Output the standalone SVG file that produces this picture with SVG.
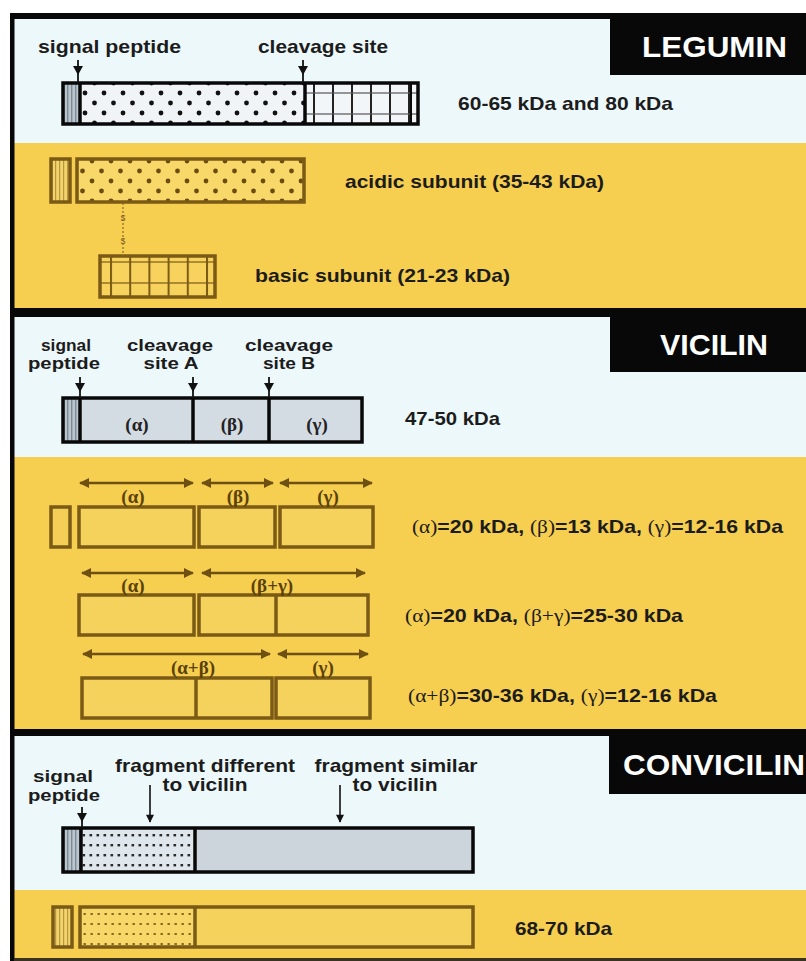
<svg xmlns="http://www.w3.org/2000/svg" width="806" height="961" viewBox="0 0 806 961">
<style>
.lbl{font-family:"Liberation Sans",Arial,sans-serif;font-weight:bold;font-size:19px;fill:#1c1c1c}
.stk{font-size:17px}
.ttl{font-family:"Liberation Sans",Arial,sans-serif;font-weight:bold;font-size:30px;fill:#ffffff}
.gk{font-family:"Liberation Serif","DejaVu Serif",serif;font-weight:normal}
.bar{font-family:"Liberation Serif","DejaVu Serif",serif;font-weight:bold;font-size:19px}
.blue{fill:#edf8fb}
.yel{fill:#f6ce50}
.blk{fill:#080808}
.kbox{fill:none;stroke:#080808;stroke-width:3.5}
.ybox{stroke:#7a5a14;stroke-width:3.5}
.ydiv{stroke:#7a5a14;stroke-width:3.5}
.kdiv{stroke:#080808;stroke-width:3.5}
.yarr{stroke:#6e5012;stroke-width:2.5;fill:none;marker-start:url(#ya);marker-end:url(#ya)}
.karr{stroke:#111;stroke-width:1.6;fill:none}
.ylab{fill:#5a410c}
</style>
<defs>
<marker id="ya" viewBox="0 0 10 10" refX="9" refY="5" markerWidth="4" markerHeight="4" orient="auto-start-reverse" markerUnits="strokeWidth">
<path d="M0,0 L10,5 L0,10 z" fill="#6e5012"/>
</marker>
<marker id="ka" viewBox="0 0 10 10" refX="9" refY="5" markerWidth="5.5" markerHeight="5" orient="auto" markerUnits="strokeWidth">
<path d="M0,0 L10,5 L0,10 z" fill="#111"/>
</marker>
<pattern id="dotK" patternUnits="userSpaceOnUse" x="80" y="88" width="19" height="20">
<rect width="19" height="20" fill="#f0f4f6"/>
<circle cx="5" cy="5" r="2.4" fill="#111"/>
<circle cx="14.5" cy="15" r="2.4" fill="#111"/>
</pattern>
<pattern id="dotY" patternUnits="userSpaceOnUse" x="77" y="166" width="19" height="20">
<rect width="19" height="20" fill="#f8d868"/>
<circle cx="5.5" cy="5" r="2.4" fill="#6a4c10"/>
<circle cx="15" cy="15" r="2.4" fill="#6a4c10"/>
</pattern>
<pattern id="gridK" patternUnits="userSpaceOnUse" x="313" y="83" width="19" height="41">
<rect width="19" height="41" fill="#f2f6f8"/>
<line x1="1" y1="0" x2="1" y2="41" stroke="#222" stroke-width="2"/>
<line x1="0" y1="10" x2="19" y2="10" stroke="#555" stroke-width="1.2"/>
<line x1="0" y1="31" x2="19" y2="31" stroke="#555" stroke-width="1.2"/>
</pattern>
<pattern id="gridY" patternUnits="userSpaceOnUse" x="110" y="256" width="19.2" height="41">
<rect width="19.2" height="41" fill="#f7d35e"/>
<line x1="1" y1="0" x2="1" y2="41" stroke="#7a5a14" stroke-width="2"/>
<line x1="0" y1="6" x2="19.2" y2="6" stroke="#7a5a14" stroke-width="1.2"/>
<line x1="0" y1="27" x2="19.2" y2="27" stroke="#7a5a14" stroke-width="1.2"/>
</pattern>
<pattern id="fineK" patternUnits="userSpaceOnUse" x="81" y="831" width="7" height="10">
<rect width="7" height="10" fill="#dfe6ec"/>
<rect x="1.5" y="3" width="2.6" height="2.4" fill="#2a2a2a"/>
</pattern>
<pattern id="fineY" patternUnits="userSpaceOnUse" x="82" y="910" width="7" height="10">
<rect width="7" height="10" fill="#f7d767"/>
<rect x="1.5" y="3" width="2.4" height="2" fill="#8a6a22"/>
</pattern>
<pattern id="stripK" patternUnits="userSpaceOnUse" x="63" y="0" width="4" height="10">
<rect width="4" height="10" fill="#b9c6cf"/>
<rect x="0" width="1.4" height="10" fill="#7d8a94"/>
</pattern>
<pattern id="stripY" patternUnits="userSpaceOnUse" x="51" y="0" width="4" height="10">
<rect width="4" height="10" fill="#f3d36a"/>
<rect x="0" width="1.2" height="10" fill="#b59540"/>
</pattern>
</defs>

<!-- background panels -->
<g id="background">
<rect x="0" y="0" width="806" height="961" fill="#ffffff"/>
<rect class="blue" x="14" y="19" width="792" height="124"/>
<rect class="yel" x="14" y="143" width="792" height="165"/>
<rect class="blue" x="14" y="317" width="792" height="140"/>
<rect class="yel" x="14" y="457" width="792" height="272"/>
<rect class="blue" x="14" y="736" width="792" height="154"/>
<rect class="yel" x="14" y="890" width="792" height="68"/>
<rect class="blk" x="10" y="13" width="796" height="6"/>
<rect class="blk" x="10" y="308" width="796" height="9"/>
<rect class="blk" x="10" y="729" width="796" height="7"/>
<rect class="blk" x="10" y="13" width="4.5" height="948"/>
<rect x="14" y="958" width="792" height="3" fill="#3a3320"/>
</g>

<!-- LEGUMIN -->
<g id="legumin-title">
<rect class="blk" x="610" y="13" width="196" height="62"/>
<text class="ttl" x="642" y="57" textLength="145" lengthAdjust="spacingAndGlyphs">LEGUMIN</text>
</g>
<g id="legumin-precursor">
<rect x="63" y="83" width="17" height="41" fill="url(#stripK)"/>
<rect x="80" y="83" width="225" height="41" fill="url(#dotK)"/>
<rect x="305" y="83" width="113" height="41" fill="url(#gridK)"/>
<line class="kdiv" x1="411" y1="83" x2="411" y2="124" style="stroke-width:2"/>
<line class="kdiv" x1="80" y1="83" x2="80" y2="124"/>
<line class="kdiv" x1="305" y1="83" x2="305" y2="124"/>
<rect class="kbox" x="63" y="83" width="355" height="41"/>
<text class="lbl" x="38" y="53" textLength="143" lengthAdjust="spacingAndGlyphs">signal peptide</text>
<text class="lbl" x="258" y="53" textLength="130" lengthAdjust="spacingAndGlyphs">cleavage site</text>
<text class="lbl" x="458" y="110" textLength="215" lengthAdjust="spacingAndGlyphs">60-65 kDa and 80 kDa</text>
</g>
<g id="legumin-acidic">
<rect class="ybox" x="51" y="159" width="19" height="43" fill="url(#stripY)"/>
<rect class="ybox" x="77" y="159" width="227" height="43" fill="url(#dotY)"/>
<text class="lbl" x="345" y="188" textLength="259" lengthAdjust="spacingAndGlyphs">acidic subunit (35-43 kDa)</text>
</g>
<g id="legumin-basic">
<rect x="100" y="256" width="115" height="41" fill="url(#gridY)"/>
<line class="ydiv" x1="207" y1="256" x2="207" y2="297" style="stroke-width:2"/>
<rect class="ybox" x="100" y="256" width="115" height="41" fill="none"/>
<text class="lbl" x="255" y="282" textLength="255" lengthAdjust="spacingAndGlyphs">basic subunit (21-23 kDa)</text>
</g>

<!-- VICILIN -->
<g id="vicilin-title">
<rect class="blk" x="610" y="308" width="196" height="64"/>
<text class="ttl" x="660" y="355" textLength="108" lengthAdjust="spacingAndGlyphs">VICILIN</text>
</g>
<g id="vicilin-precursor">
<rect x="63" y="398" width="17" height="44" fill="url(#stripK)"/>
<rect x="80" y="398" width="282" height="44" fill="#d3dbe3"/>
<line class="kdiv" x1="80" y1="398" x2="80" y2="442"/>
<line class="kdiv" x1="193" y1="398" x2="193" y2="442"/>
<line class="kdiv" x1="269" y1="398" x2="269" y2="442"/>
<rect class="kbox" x="63" y="398" width="299" height="44"/>
<text class="bar" x="137" y="431" text-anchor="middle" fill="#222">(α)</text>
<text class="bar" x="232" y="431" text-anchor="middle" fill="#222">(β)</text>
<text class="bar" x="317" y="431" text-anchor="middle" fill="#222">(γ)</text>
<text class="lbl stk" x="66" y="351" text-anchor="middle" textLength="50" lengthAdjust="spacingAndGlyphs">signal</text>
<text class="lbl stk" x="64" y="369" text-anchor="middle" textLength="72" lengthAdjust="spacingAndGlyphs">peptide</text>
<text class="lbl stk" x="170" y="351" text-anchor="middle" textLength="86" lengthAdjust="spacingAndGlyphs">cleavage</text>
<text class="lbl stk" x="171" y="369" text-anchor="middle" textLength="55" lengthAdjust="spacingAndGlyphs">site A</text>
<text class="lbl stk" x="289" y="351" text-anchor="middle" textLength="88" lengthAdjust="spacingAndGlyphs">cleavage</text>
<text class="lbl stk" x="289" y="369" text-anchor="middle" textLength="52" lengthAdjust="spacingAndGlyphs">site B</text>
<text class="lbl" x="405" y="425" textLength="95" lengthAdjust="spacingAndGlyphs">47-50 kDa</text>
</g>
<g id="vicilin-row1">
<rect class="ybox" x="51" y="507" width="19" height="40" fill="#f3cf58"/>
<rect class="ybox" x="79" y="507" width="115" height="40" fill="#f5d25c"/>
<rect class="ybox" x="199" y="507" width="76" height="40" fill="#f5d25c"/>
<rect class="ybox" x="280" y="507" width="93" height="40" fill="#f5d25c"/>
<text class="bar ylab" x="133" y="503" text-anchor="middle">(α)</text>
<text class="bar ylab" x="238" y="503" text-anchor="middle">(β)</text>
<text class="bar ylab" x="328" y="503" text-anchor="middle">(γ)</text>
<text class="lbl" x="412" y="533" textLength="371" lengthAdjust="spacingAndGlyphs"><tspan class="gk">(α)</tspan>=20 kDa, <tspan class="gk">(β)</tspan>=13 kDa, <tspan class="gk">(γ)</tspan>=12-16 kDa</text>
</g>
<g id="vicilin-row2">
<rect class="ybox" x="79" y="595" width="115" height="40" fill="#f5d25c"/>
<rect class="ybox" x="199" y="595" width="169" height="40" fill="#f5d25c"/>
<line class="ydiv" x1="276" y1="595" x2="276" y2="635"/>
<text class="bar ylab" x="133" y="592" text-anchor="middle">(α)</text>
<text class="bar ylab" x="272" y="592" text-anchor="middle">(β+γ)</text>
<text class="lbl" x="405" y="622" textLength="278" lengthAdjust="spacingAndGlyphs"><tspan class="gk">(α)</tspan>=20 kDa, <tspan class="gk">(β+γ)</tspan>=25-30 kDa</text>
</g>
<g id="vicilin-row3">
<rect class="ybox" x="82" y="678" width="190" height="40" fill="#f5d25c"/>
<line class="ydiv" x1="196" y1="678" x2="196" y2="718"/>
<rect class="ybox" x="276" y="678" width="94" height="40" fill="#f5d25c"/>
<text class="bar ylab" x="193" y="674" text-anchor="middle">(α+β)</text>
<text class="bar ylab" x="323" y="674" text-anchor="middle">(γ)</text>
<text class="lbl" x="408" y="702" textLength="309" lengthAdjust="spacingAndGlyphs"><tspan class="gk">(α+β)</tspan>=30-36 kDa, <tspan class="gk">(γ)</tspan>=12-16 kDa</text>
</g>

<!-- CONVICILIN -->
<g id="convicilin-title">
<rect class="blk" x="609" y="729" width="197" height="65"/>
<text class="ttl" x="623" y="775" textLength="182" lengthAdjust="spacingAndGlyphs">CONVICILIN</text>
</g>
<g id="convicilin-precursor">
<rect x="63" y="828" width="18" height="44" fill="url(#stripK)"/>
<rect x="81" y="828" width="114" height="44" fill="url(#fineK)"/>
<rect x="195" y="828" width="278" height="44" fill="#ccd4dc"/>
<line class="kdiv" x1="81" y1="828" x2="81" y2="872"/>
<line class="kdiv" x1="195" y1="828" x2="195" y2="872"/>
<rect class="kbox" x="63" y="828" width="410" height="44"/>
<text class="lbl stk" x="63" y="782" text-anchor="middle" textLength="60" lengthAdjust="spacingAndGlyphs">signal</text>
<text class="lbl stk" x="64" y="801" text-anchor="middle" textLength="72" lengthAdjust="spacingAndGlyphs">peptide</text>
<text class="lbl" x="205" y="772" text-anchor="middle" textLength="180" lengthAdjust="spacingAndGlyphs">fragment different</text>
<text class="lbl" x="205" y="791" text-anchor="middle" textLength="85" lengthAdjust="spacingAndGlyphs">to vicilin</text>
<text class="lbl" x="396" y="772" text-anchor="middle" textLength="163" lengthAdjust="spacingAndGlyphs">fragment similar</text>
<text class="lbl" x="395" y="791" text-anchor="middle" textLength="85" lengthAdjust="spacingAndGlyphs">to vicilin</text>
</g>
<g id="convicilin-mature">
<rect class="ybox" x="53" y="907" width="19" height="40" fill="url(#stripY)"/>
<rect x="80" y="907" width="115" height="40" fill="url(#fineY)"/>
<rect x="195" y="907" width="278" height="40" fill="#f5d25c"/>
<line class="ydiv" x1="195" y1="907" x2="195" y2="947"/>
<rect class="ybox" x="80" y="907" width="393" height="40" fill="none"/>
<text class="lbl" x="515" y="935" textLength="97" lengthAdjust="spacingAndGlyphs">68-70 kDa</text>
</g>

<!-- connectors -->
<g id="connectors">
<g fill="#111" stroke="#111">
<line x1="78" y1="60" x2="78" y2="83" stroke-width="1.8"/>
<path d="M73,66 L83,66 L78,75 z" stroke="none"/>
<line x1="303" y1="60" x2="303" y2="83" stroke-width="1.8"/>
<path d="M298,66 L308,66 L303,75 z" stroke="none"/>
<line x1="80" y1="377" x2="80" y2="398" stroke-width="1.8"/>
<path d="M75,383 L85,383 L80,392 z" stroke="none"/>
<line x1="193" y1="377" x2="193" y2="398" stroke-width="1.8"/>
<path d="M188,383 L198,383 L193,392 z" stroke="none"/>
<line x1="269" y1="377" x2="269" y2="398" stroke-width="1.8"/>
<path d="M264,383 L274,383 L269,392 z" stroke="none"/>
<line x1="82" y1="807" x2="82" y2="828" stroke-width="1.8"/>
<path d="M77,813 L87,813 L82,822 z" stroke="none"/>
</g>
<line class="karr" x1="150" y1="785" x2="150" y2="822" marker-end="url(#ka)"/>
<line class="karr" x1="340" y1="785" x2="340" y2="822" marker-end="url(#ka)"/>
<g id="disulfide">
<line x1="123" y1="203" x2="123" y2="256" stroke="#8a6a28" stroke-width="1.2" stroke-dasharray="2,2"/>
<text x="123" y="221" text-anchor="middle" font-family="Liberation Sans,Arial,sans-serif" font-size="10" fill="#7a5a20">s</text>
<text x="123" y="244" text-anchor="middle" font-family="Liberation Sans,Arial,sans-serif" font-size="10" fill="#7a5a20">s</text>
</g>
<line class="yarr" x1="80" y1="483" x2="193" y2="483"/>
<line class="yarr" x1="202" y1="483" x2="273" y2="483"/>
<line class="yarr" x1="280" y1="483" x2="372" y2="483"/>
<line class="yarr" x1="82" y1="573" x2="193" y2="573"/>
<line class="yarr" x1="202" y1="573" x2="365" y2="573"/>
<line class="yarr" x1="83" y1="654" x2="270" y2="654"/>
<line class="yarr" x1="278" y1="654" x2="368" y2="654"/>
</g>
</svg>
